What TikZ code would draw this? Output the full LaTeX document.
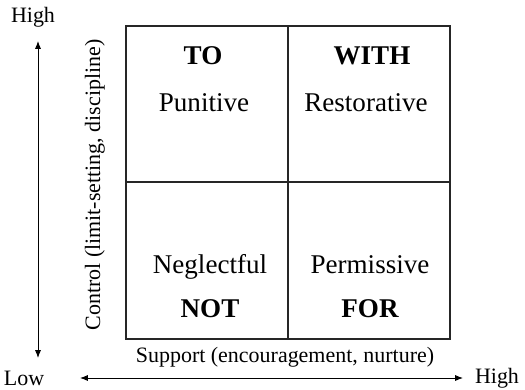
\documentclass[tikz,border=0pt]{standalone}
\usepackage{fontspec}
\setmainfont{Liberation Serif}
\usetikzlibrary{arrows.meta}

\begin{document}
\begin{tikzpicture}[
    >={Latex[length=4.5pt,width=3.5pt]},
    % grid lines and axes are both plain thin rules
    grid/.style={line width=0.6pt, draw=black!85},
    axis/.style={<->, line width=0.5pt},
    % the two text sizes: quadrant words, and axis captions
    big/.style={font=\fontsize{15.4}{18}\selectfont, anchor=base},
    boldbig/.style={big, font=\fontsize{15.4}{18}\selectfont\bfseries},
    axislab/.style={font=\fontsize{12.5}{15}\selectfont},
]
\useasboundingbox (0,0) rectangle (10.5,7.78);

%================= the 2x2 window =================%
\coordinate (sw) at (2.52,1.0);
\coordinate (ne) at (9.0,7.26);
\coordinate (mid) at (5.76,4.14);
\draw[grid] (sw) rectangle (ne);
\draw[grid] (sw -| mid) -- (ne -| mid);
\draw[grid] (sw |- mid) -- (ne |- mid);

%================= quadrant words =================%
\node[boldbig] (to)   at (4.06,6.5)  {TO};
\node[big]     (pun)  at (4.08,5.56) {Punitive};
\node[boldbig] (with) at (7.44,6.5)  {WITH};
\node[big]     (rest) at (7.32,5.56) {Restorative};
\node[big]     (negl) at (4.2,2.32)  {Neglectful};
\node[boldbig] (nt)   at (4.2,1.44)  {NOT};
\node[big]     (perm) at (7.4,2.32)  {Permissive};
\node[boldbig] (fr)   at (7.4,1.44)  {FOR};

%================= axes =================%
\node[axislab] (hitop) at (0.66,7.44) {High};
\node[axislab] (low)   at (0.48,0.22) {Low};
\node[axislab] (hirt)  at (9.94,0.22) {High};
\coordinate (vtop)   at (0.76,6.96);
\coordinate (vbot)   at (0.76,0.62);
\coordinate (hleft)  at (1.6,0.22);
\coordinate (hright) at (9.26,0.22);
\draw[axis] (vtop) -- (vbot);
\draw[axis] (hleft) -- (hright);
\node[axislab] (supp) at (5.7,0.64) {Support (encouragement, nurture)};
\node[axislab, rotate=90] (ctrl) at (1.9,4.08) {Control (limit-setting, discipline)};

\end{tikzpicture}
\end{document}
